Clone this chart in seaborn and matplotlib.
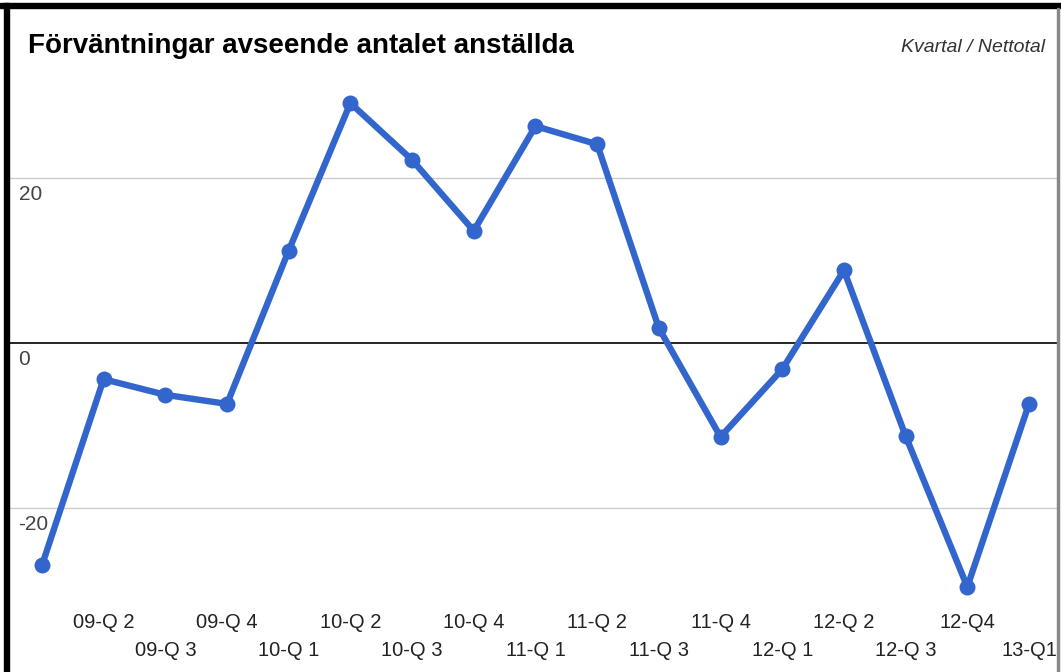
import numpy as np
import pandas as pd
import matplotlib
matplotlib.use("Agg")
import matplotlib.pyplot as plt
from matplotlib.patches import Rectangle
import seaborn as sns

# quarters, first one has no visible label
kvartal = ["09-Q 1", "09-Q 2", "09-Q 3", "09-Q 4", "10-Q 1", "10-Q 2", "10-Q 3", "10-Q 4",
           "11-Q 1", "11-Q 2", "11-Q 3", "11-Q 4", "12-Q 1", "12-Q 2", "12-Q 3", "12-Q4", "13-Q1"]
nettotal = [-27.0, -4.4, -6.3, -7.4, 11.2, 29.1, 22.2, 13.6,
            26.3, 24.1, 1.8, -11.4, -3.2, 8.8, -11.3, -29.6, -7.4]
y_ticks = [-20, 0, 20]

sns.set_theme(style="white")
plt.rcParams['font.family'] = ['Liberation Sans', 'DejaVu Sans']

df = pd.DataFrame({"pos": np.arange(len(kvartal)), "kvartal": kvartal, "varde": nettotal})

fig = plt.figure(figsize=(10.61, 6.72), dpi=100)
ax = fig.add_axes([8 / 1061, 1 - 605 / 672, 1050 / 1061, 525 / 672])

sns.lineplot(data=df, x="pos", y="varde", ax=ax, color="#3366CC", linewidth=4.6,
             marker="o", markersize=11.5, markeredgewidth=0, zorder=3)

ax.set_xlim(-0.55, len(kvartal) - 1 + 0.47)
ax.set_ylim(-31.8, 31.9)

# grid lines, zero line black
for v in y_ticks:
    ax.axhline(v, color="black" if v == 0 else "#cccccc", linewidth=1.2 if v == 0 else 1, zorder=1)
    ax.text(0.01, v - 0.9, str(v), transform=ax.get_yaxis_transform(), ha="left", va="top",
            fontsize=15, color="#444444")

ax.set_yticks([])
ax.set_xticks([])
for s in ax.spines.values():
    s.set_visible(False)
ax.set_xlabel("")
ax.set_ylabel("")

# staggered x labels
for i, lab in enumerate(kvartal):
    if i == 0:
        continue
    ypix = 622 if i % 2 == 1 else 650
    fig.text((42 + i * 61.7) / 1061, 1 - ypix / 672, lab, ha="center", va="center",
             fontsize=14.5, color="#222222")

fig.text(28 / 1061, 1 - 46 / 672, "Förväntningar avseende antalet anställda",
         ha="left", va="center", fontsize=20, fontweight="bold", color="black")
fig.text(1045 / 1061, 1 - 48 / 672, "Kvartal / Nettotal", ha="right", va="center",
         fontsize=14, fontstyle="italic", color="#333333")

# frame around the picture
fig.patches.append(Rectangle((0, 1 - 8 / 672), 1, 5 / 672, transform=fig.transFigure,
                             color="black", zorder=10))
fig.patches.append(Rectangle((4 / 1061, 0), 5 / 1061, 1 - 3 / 672, transform=fig.transFigure,
                             color="black", zorder=10))
fig.patches.append(Rectangle((1057 / 1061, 0), 1.5 / 1061, 1 - 8 / 672, transform=fig.transFigure,
                             color="#888888", zorder=10))

fig.savefig("out.png", dpi=100, facecolor="white")
